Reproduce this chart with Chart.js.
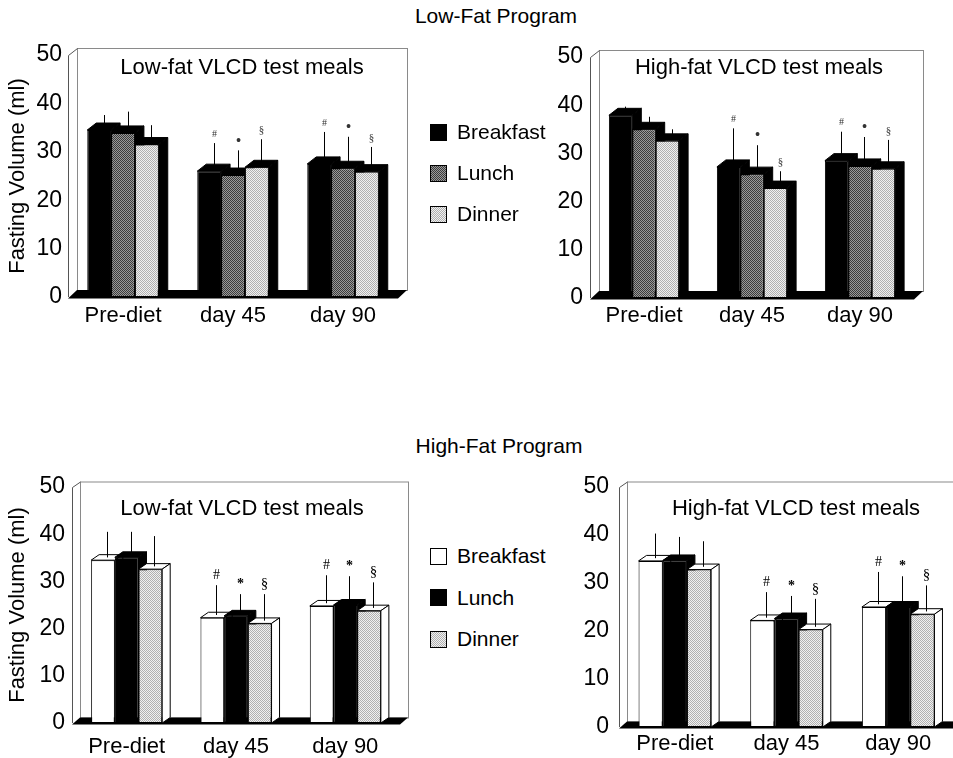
<!DOCTYPE html>
<html>
<head>
<meta charset="utf-8">
<script src="https://cdn.jsdelivr.net/npm/chart.js@4.4.1/dist/chart.umd.min.js"></script>
<style>
html, body { margin: 0; padding: 0; width: 953px; height: 758px; overflow: hidden; background: #fff; }
body { position: relative; font-family: "Liberation Sans", Arial, sans-serif; color: #000; }
canvas { position: absolute; }
.txt { position: absolute; transform: translate(-50%, -50%); white-space: nowrap; }
.section { font-size: 21px; }
.ptitle { font-size: 22px; }
.leg { position: absolute; font-size: 21px; white-space: nowrap; transform: translateY(-50%); }
.sw { position: absolute; width: 15px; height: 15px; border: 1px solid #000; }
.black { background: #000; }
.white { background: #fff; }
.dark { background-color: #6b6b6b; background-image: repeating-conic-gradient(#3c3c3c 0 25%, #9a9a9a 0 50%); background-size: 2px 2px; }
.light { background-color: #d0d0d0; background-image: repeating-conic-gradient(#b0b0b0 0 25%, #f0f0f0 0 50%); background-size: 2px 2px; }
</style>
</head>
<body>

<div class="txt section" style="left:496px; top:16px;">Low-Fat Program</div>
<div class="txt section" style="left:499px; top:446px;">High-Fat Program</div>

<canvas id="p1" width="420" height="345" style="left:0; top:0;"></canvas>
<canvas id="p2" width="413" height="345" style="left:540px; top:0;"></canvas>
<canvas id="p3" width="420" height="328" style="left:0; top:430px;"></canvas>
<canvas id="p4" width="420" height="328" style="left:560px; top:430px;"></canvas>

<div class="txt ptitle" style="left:242px; top:67px;">Low-fat VLCD test meals</div>
<div class="txt ptitle" style="left:759px; top:67px;">High-fat VLCD test meals</div>
<div class="txt ptitle" style="left:242px; top:508px;">Low-fat VLCD test meals</div>
<div class="txt ptitle" style="left:796px; top:508px;">High-fat VLCD test meals</div>

<div id="legendTop"></div>
<div id="legendBottom"></div>

<script>
const categories = ['Pre-diet', 'day 45', 'day 90'];
const meals = ['Breakfast', 'Lunch', 'Dinner'];
const yMin = 0, yMax = 50, yStep = 10;
const yTitle = 'Fasting Volume (ml)';

// significance marks, shown on day 45 and day 90 only
const markedCats = [false, true, true];
const marksTop = ['#', '\u2022', '\u00a7'];
const marksBottom = ['#', '*', '\u00a7'];

// Low-Fat Program, low-fat VLCD test meals
const lfLowBreakfast = [34.5, 26.0, 27.5];
const lfLowLunch = [33.9, 25.2, 26.6];
const lfLowDinner = [31.5, 26.8, 25.9];
const lfLowErrBreakfast = [3.1, 5.8, 6.6];
const lfLowErrLunch = [4.4, 5.1, 6.5];
const lfLowErrDinner = [4.0, 5.8, 5.1];

// Low-Fat Program, high-fat VLCD test meals
const lfHighBreakfast = [37.9, 27.2, 28.5];
const lfHighLunch = [35.0, 25.7, 27.4];
const lfHighDinner = [32.6, 22.8, 26.8];
const lfHighErrBreakfast = [1.8, 8.0, 6.0];
const lfHighErrLunch = [2.6, 6.0, 6.0];
const lfHighErrDinner = [2.4, 3.5, 6.0];

// High-Fat Program, low-fat VLCD test meals
const hfLowBreakfast = [34.5, 22.3, 24.8];
const hfLowLunch = [35.1, 22.7, 25.0];
const hfLowDinner = [32.6, 21.1, 23.8];
const hfLowErrBreakfast = [6.0, 6.9, 6.5];
const hfLowErrLunch = [5.4, 4.6, 6.1];
const hfLowErrDinner = [7.0, 6.2, 6.0];

// High-Fat Program, high-fat VLCD test meals
const hfHighBreakfast = [34.6, 22.2, 25.0];
const hfHighLunch = [34.7, 22.6, 25.0];
const hfHighDinner = [32.8, 20.3, 23.5];
const hfHighErrBreakfast = [5.7, 5.9, 7.3];
const hfHighErrLunch = [4.9, 4.7, 6.4];
const hfHighErrDinner = [5.9, 6.4, 6.0];

const FONT = '"Liberation Sans", Arial, sans-serif';

function dither(a, b) {
    const c = document.createElement('canvas');
    c.width = 2; c.height = 2;
    const g = c.getContext('2d');
    g.fillStyle = a; g.fillRect(0, 0, 2, 2);
    g.fillStyle = b; g.fillRect(0, 0, 1, 1); g.fillRect(1, 1, 1, 1);
    return g.createPattern(c, 'repeat');
}

const darkGray = dither('#9a9a9a', '#3c3c3c');
const lightGray = dither('#f0f0f0', '#b0b0b0');

// 3D box, bar depth faces, error bars and marks
const box3d = {
    id: 'box3d',
    beforeDatasetsDraw(chart, args, opts) {
        const ctx = chart.ctx;
        const a = chart.chartArea;
        const dx = opts.dx, dy = opts.dy;
        ctx.save();
        ctx.lineWidth = 1;

        // back wall
        ctx.strokeStyle = '#8a8a8a';
        ctx.strokeRect(a.left + dx + 0.5, a.top - dy + 0.5, a.right - a.left, a.bottom - a.top);
        // left wall edges
        ctx.strokeStyle = '#555';
        ctx.beginPath();
        ctx.moveTo(a.left + 0.5, a.bottom);
        ctx.lineTo(a.left + 0.5, a.top + 0.5);
        ctx.lineTo(a.left + dx + 0.5, a.top - dy + 0.5);
        ctx.stroke();

        // floor slab
        ctx.fillStyle = '#000';
        ctx.beginPath();
        ctx.moveTo(a.left, a.bottom + 1.5);
        ctx.lineTo(a.left + dx, a.bottom - dy);
        ctx.lineTo(a.right + dx, a.bottom - dy);
        ctx.lineTo(a.right, a.bottom + 1.5);
        ctx.closePath();
        ctx.fill();

        const face = (pts, fill) => {
            ctx.beginPath();
            ctx.moveTo(pts[0][0], pts[0][1]);
            for (let k = 1; k < pts.length; k++) ctx.lineTo(pts[k][0], pts[k][1]);
            ctx.closePath();
            ctx.fillStyle = fill;
            ctx.fill();
            ctx.strokeStyle = '#000';
            ctx.stroke();
        };

        // bars left to right: depth first, then the library's own front face
        chart.data.datasets.forEach((ds, i) => {
            const meta = chart.getDatasetMeta(i);
            meta.data.forEach(bar => {
                const p = bar.getProps(['x', 'y', 'base', 'width'], true);
                const l = p.x - p.width / 2, r = p.x + p.width / 2;
                face([[l, p.y], [l + dx, p.y - dy], [r + dx, p.y - dy], [r, p.y]], ds.depthTop);
                face([[r, p.y], [r + dx, p.y - dy], [r + dx, p.base - dy], [r, p.base]], ds.depthSide);
                bar.draw(ctx, a);
            });
        });
        ctx.restore();
    },
    beforeDatasetDraw() {
        return false;
    },
    afterDatasetsDraw(chart, args, opts) {
        const ctx = chart.ctx;
        const yScale = chart.scales.y;
        ctx.save();
        ctx.strokeStyle = '#000';
        ctx.lineWidth = 1;
        ctx.textAlign = 'center';
        ctx.textBaseline = 'middle';
        chart.data.datasets.forEach((ds, i) => {
            const meta = chart.getDatasetMeta(i);
            meta.data.forEach((bar, j) => {
                const p = bar.getProps(['x', 'y'], true);
                const ex = Math.round(p.x + opts.dx * 0.5) + 0.5;
                const yTop = yScale.getPixelForValue(ds.data[j] + ds.errors[j]);
                ctx.beginPath();
                ctx.moveTo(ex, p.y - opts.dy * 0.5);
                ctx.lineTo(ex, yTop);
                ctx.stroke();
                if (markedCats[j]) {
                    ctx.fillStyle = opts.markColor;
                    ctx.font = opts.markFonts[i];
                    ctx.fillText(opts.marks[i], ex, yTop - opts.markGap);
                }
            });
        });
        ctx.restore();
    }
};

function makePanel(id, p) {
    const ctx = document.getElementById(id).getContext('2d');
    return new Chart(ctx, {
        type: 'bar',
        data: {
            labels: categories,
            datasets: meals.map((m, i) => ({
                label: m,
                data: p.values[i],
                errors: p.errors[i],
                backgroundColor: p.fronts[i],
                borderColor: '#000',
                borderWidth: 1,
                borderSkipped: false,
                depthTop: p.tops[i],
                depthSide: p.sides[i],
                barPercentage: 1,
                categoryPercentage: 0.65
            }))
        },
        options: {
            responsive: false,
            animation: false,
            events: [],
            layout: { padding: p.padding },
            plugins: {
                legend: { display: false },
                tooltip: { enabled: false },
                box3d: {
                    dx: p.dx, dy: p.dy,
                    marks: p.marks, markFonts: p.markFonts, markColor: p.markColor, markGap: p.markGap
                }
            },
            scales: {
                x: {
                    grid: { display: false, drawTicks: false },
                    border: { display: false },
                    ticks: {
                        color: '#000', font: { family: FONT, size: 22 },
                        padding: p.xPad, maxRotation: 0, autoSkip: false
                    },
                    afterFit: s => { s.height = p.xHeight; }
                },
                y: {
                    min: yMin, max: yMax,
                    grid: { display: false, drawTicks: false },
                    border: { display: false },
                    ticks: { stepSize: yStep, color: '#000', font: { family: FONT, size: 23 }, padding: p.yPad },
                    title: {
                        display: p.showTitle, text: yTitle, color: '#000',
                        font: { family: FONT, size: 22 }, padding: { top: 5, bottom: 0 }
                    },
                    afterFit: s => { s.width = p.yWidth; }
                }
            }
        },
        plugins: [box3d]
    });
}

const topStyle = {
    fronts: ['#000', darkGray, lightGray],
    tops: ['#000', '#000', '#000'],
    sides: ['#000', '#000', '#000'],
    dx: 9, dy: 7,
    marks: marksTop,
    markFonts: ['10px "Liberation Serif", serif', '16px "Liberation Serif", serif', '11px "Liberation Serif", serif'],
    markColor: '#333', markGap: 9
};
const bottomStyle = {
    fronts: ['#fff', '#000', lightGray],
    tops: ['#fff', '#000', '#fff'],
    sides: ['#fff', '#000', '#fff'],
    dx: 8, dy: 5.5,
    marks: marksBottom,
    markFonts: ['14px "Liberation Serif", serif', 'bold 14px "Liberation Serif", serif', '15px "Liberation Serif", serif'],
    markColor: '#000', markGap: 10
};

makePanel('p1', Object.assign({}, topStyle, {
    values: [lfLowBreakfast, lfLowLunch, lfLowDinner],
    errors: [lfLowErrBreakfast, lfLowErrLunch, lfLowErrDinner],
    padding: { top: 55, right: 22, left: 0, bottom: 0 },
    yWidth: 68, xHeight: 48, xPad: 6, yPad: 6, showTitle: true
}));
makePanel('p2', Object.assign({}, topStyle, {
    values: [lfHighBreakfast, lfHighLunch, lfHighDinner],
    errors: [lfHighErrBreakfast, lfHighErrLunch, lfHighErrDinner],
    padding: { top: 57, right: 39, left: 0, bottom: 0 },
    yWidth: 50, xHeight: 47, xPad: 5, yPad: 7, showTitle: false
}));
makePanel('p3', Object.assign({}, bottomStyle, {
    values: [hfLowBreakfast, hfLowLunch, hfLowDinner],
    errors: [hfLowErrBreakfast, hfLowErrLunch, hfLowErrDinner],
    padding: { top: 57, right: 20, left: 0, bottom: 0 },
    yWidth: 72, xHeight: 35, xPad: 11, yPad: 7, showTitle: true
}));
makePanel('p4', Object.assign({}, bottomStyle, {
    values: [hfHighBreakfast, hfHighLunch, hfHighDinner],
    errors: [hfHighErrBreakfast, hfHighErrLunch, hfHighErrDinner],
    padding: { top: 57, right: 26, left: 0, bottom: 0 },
    yWidth: 59, xHeight: 31, xPad: 4, yPad: 10, showTitle: false
}));

// HTML legends
function makeLegend(id, y0, gap, swatchClasses) {
    const box = document.getElementById(id);
    meals.forEach((m, i) => {
        const y = y0 + i * gap;
        const sw = document.createElement('div');
        sw.className = 'sw ' + swatchClasses[i];
        sw.style.left = '430px';
        sw.style.top = (y - 8.5) + 'px';
        box.appendChild(sw);
        const t = document.createElement('div');
        t.className = 'leg';
        t.style.left = '457px';
        t.style.top = y + 'px';
        t.textContent = m;
        box.appendChild(t);
    });
}
makeLegend('legendTop', 132, 41, ['black', 'dark', 'light']);
makeLegend('legendBottom', 556, 41.5, ['white', 'black', 'light']);
</script>
</body>
</html>
